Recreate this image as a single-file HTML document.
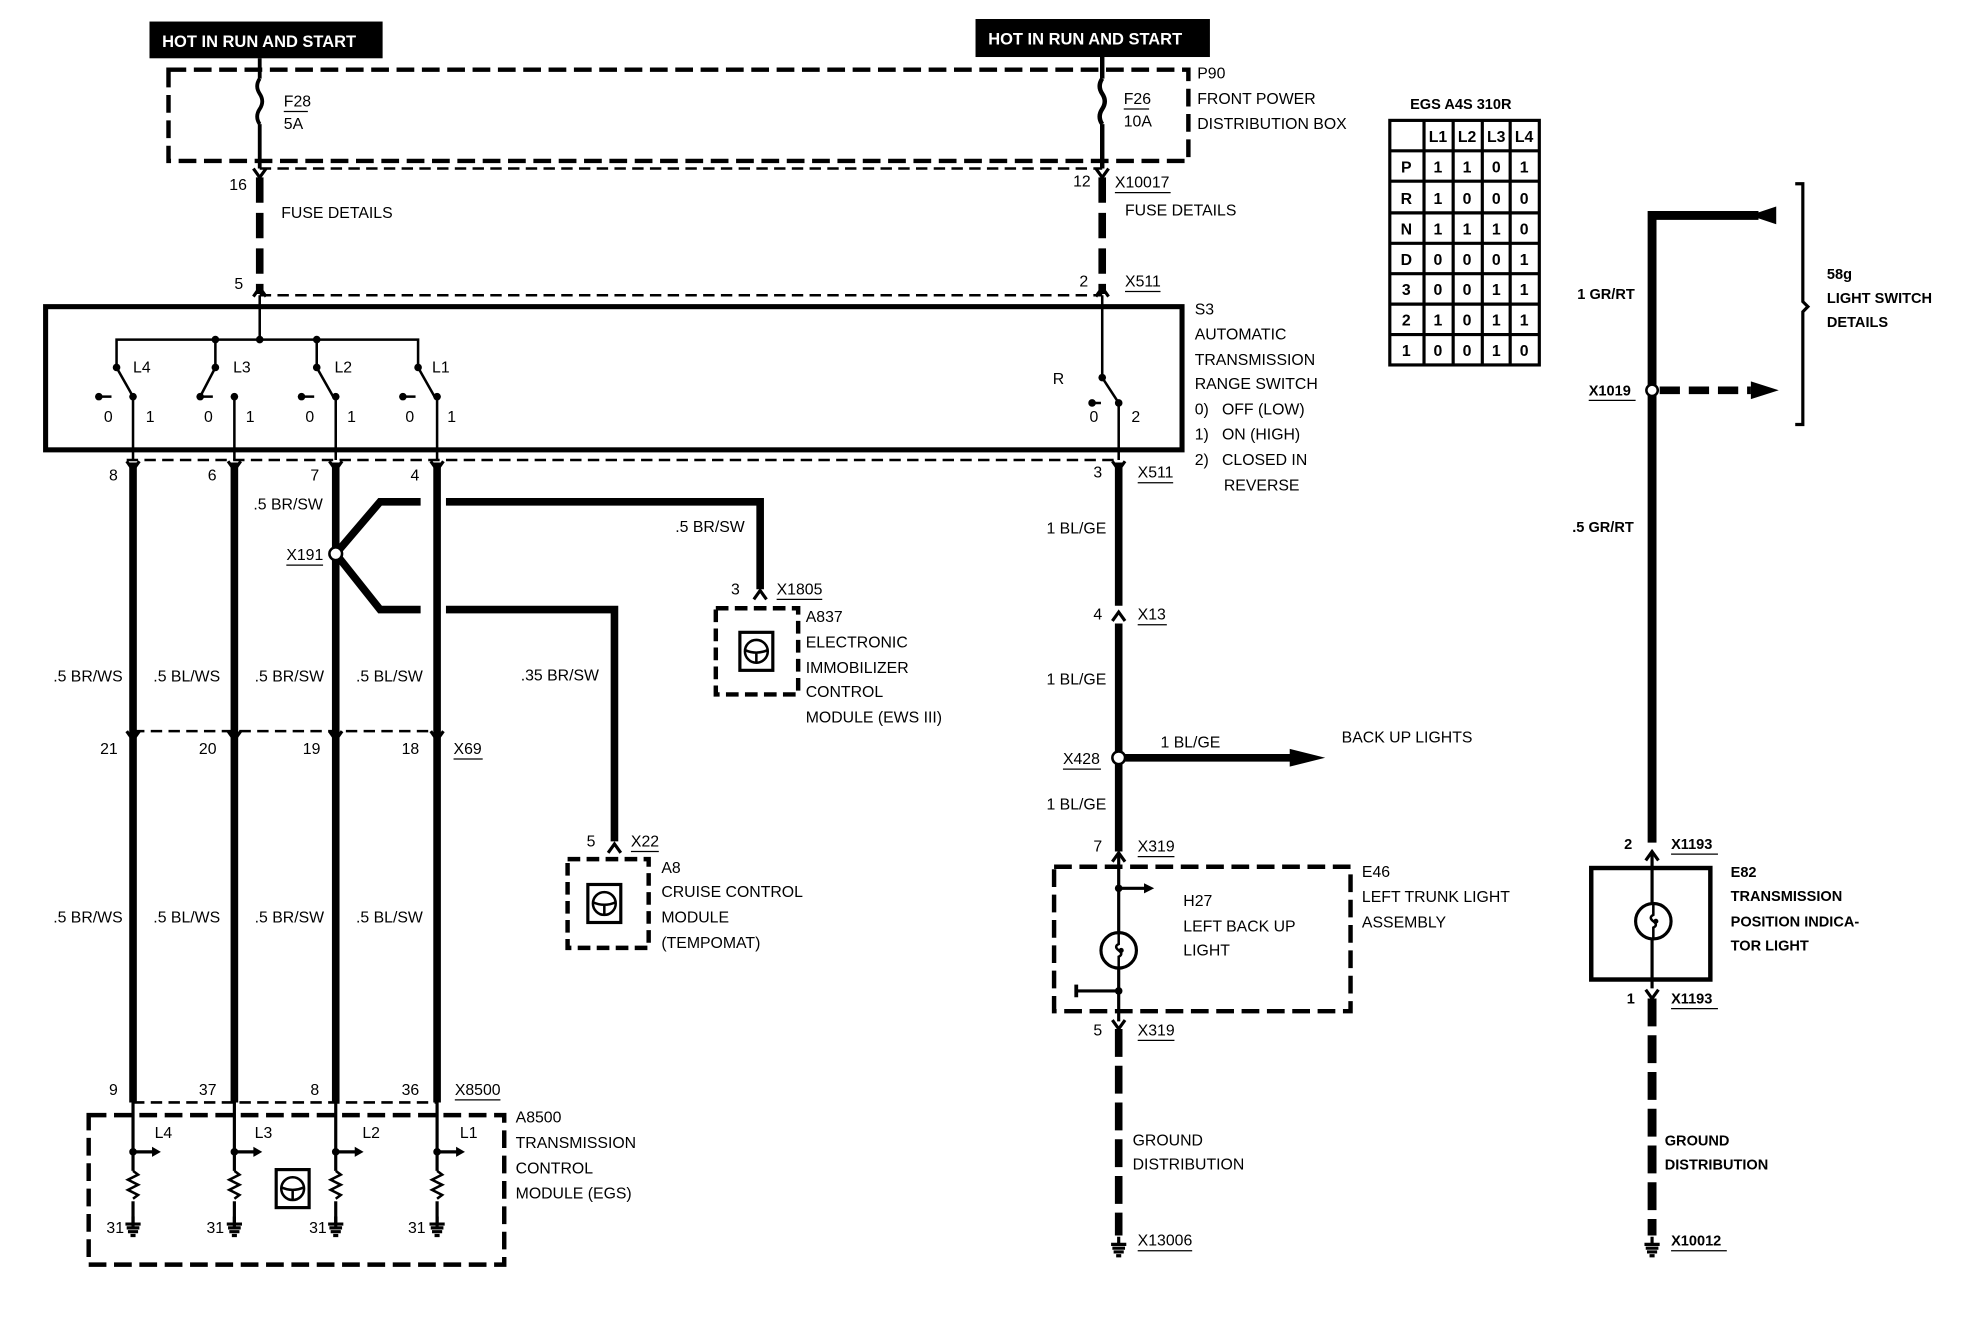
<!DOCTYPE html>
<html><head><meta charset="utf-8"><style>
html,body{margin:0;padding:0;background:#fff;width:1984px;height:1328px;overflow:hidden}
svg{display:block}
text{font-family:"Liberation Sans",sans-serif;font-size:12.5px;fill:#000}
.b{font-weight:bold}
</style></head><body>
<svg width="1984" height="1328" viewBox="0 0 1566 1048" preserveAspectRatio="none" xmlns="http://www.w3.org/2000/svg">
<defs>
<g id="fork"><path d="M-5,-7 L0,0 L5,-7" fill="none" stroke="#000" stroke-width="2.5"/></g>
<g id="forkU"><path d="M-5,7 L0,0 L5,7" fill="none" stroke="#000" stroke-width="2.5"/></g>
<g id="gnd"><path d="M0,-10 V-4 M-6,-4 H6 M-5,-1 H5 M-4,2 H4 M-2,5 H2" stroke="#000" stroke-width="2.5" fill="none"/></g>
<g id="mod"><rect x="-13" y="-15" width="26" height="30" fill="#fff" stroke="#000" stroke-width="2.5"/><circle cx="0" cy="0" r="9" fill="none" stroke="#000" stroke-width="2"/><path d="M-9,-1 Q0,3 9,-1 M0,2 V9" stroke="#000" stroke-width="2" fill="none"/></g>
<g id="lamp"><circle cx="0" cy="0" r="14" fill="none" stroke="#000" stroke-width="2.5"/><path d="M0,-14 V-5 Q-4,-3 0,0 Q4,3 0,5 V14" fill="none" stroke="#000" stroke-width="2"/><circle cx="2" cy="0" r="2"/></g>
<g id="res"><path d="M0,0 l4,3 l-8,4 l8,4 l-8,4 l8,4 l-4,3" fill="none" stroke="#000" stroke-width="2"/></g>
</defs>

<rect x="118" y="17" width="184" height="29" fill="#000"/>
<text x="128" y="37" class="b" style="fill:#fff;font-size:13px">HOT IN RUN AND START</text>
<rect x="770" y="15" width="185" height="30" fill="#000"/>
<text x="780" y="35" class="b" style="fill:#fff;font-size:13px">HOT IN RUN AND START</text>

<rect x="133" y="55" width="805" height="72" fill="none" stroke="#000" stroke-width="3.5" stroke-dasharray="14,6"/>
<text x="945" y="62">P90</text>
<text x="945" y="82">FRONT POWER</text>
<text x="945" y="102">DISTRIBUTION BOX</text>
<path d="M205,46 V62 M205,62 q-4,6 0,12 q4,6 0,12 q-4,6 0,12 M205,98 V133" stroke="#000" stroke-width="3" fill="none"/>
<text x="224" y="84">F28</text><line x1="224" y1="88" x2="243" y2="88" stroke="#000"/><text x="224" y="102">5A</text>
<path d="M870,45 V62 M870,62 q-4,6 0,12 q4,6 0,12 q-4,6 0,12 M870,98 V133" stroke="#000" stroke-width="3.5" fill="none"/>
<text x="887" y="82">F26</text><line x1="887" y1="86" x2="907" y2="86" stroke="#000"/><text x="887" y="100">10A</text>

<line x1="205" y1="133" x2="870" y2="133" stroke="#000" stroke-width="2" stroke-dasharray="9,5"/>
<use href="#fork" x="205" y="140"/><use href="#fork" x="870" y="140"/>
<path d="M205,140 V232" stroke="#000" stroke-width="6" stroke-dasharray="20,8"/>
<path d="M870,140 V232" stroke="#000" stroke-width="6" stroke-dasharray="20,8"/>
<text x="181" y="150">16</text><text x="847" y="147">12</text>
<text x="880" y="148">X10017</text><line x1="880" y1="152" x2="924" y2="152" stroke="#000"/>
<text x="222" y="172">FUSE DETAILS</text><text x="888" y="170">FUSE DETAILS</text>
<text x="185" y="228">5</text><text x="852" y="226">2</text>
<text x="888" y="226">X511</text><line x1="888" y1="230" x2="916" y2="230" stroke="#000"/>
<line x1="205" y1="233" x2="870" y2="233" stroke="#000" stroke-width="2" stroke-dasharray="9,5"/>
<use href="#forkU" x="205" y="227"/><use href="#forkU" x="870" y="227"/>

<rect x="36" y="242" width="897" height="113" fill="none" stroke="#000" stroke-width="4"/>
<text x="943" y="248">S3</text>
<text x="943" y="268">AUTOMATIC</text>
<text x="943" y="288">TRANSMISSION</text>
<text x="943" y="307">RANGE SWITCH</text>
<text x="943" y="327">0)&#160;&#160;&#160;OFF (LOW)</text>
<text x="943" y="347">1)&#160;&#160;&#160;ON (HIGH)</text>
<text x="943" y="367">2)&#160;&#160;&#160;CLOSED IN</text>
<text x="966" y="387">REVERSE</text>

<g stroke="#000" stroke-width="2" fill="none">
<path d="M205,233 V268 M92,290 V268 H330 V290"/>
<path d="M170,268 V290 M250,268 V290"/>
<path d="M92,290 L105,313 M170,290 L158,313 M250,290 L263,313 M330,290 L343,313 M870,233 V298 L883,318"/>
<path d="M105,313 V363 M185,313 V363 M265,313 V363 M345,313 V363 M883,318 V363"/>
<path d="M80,313 h8 M160,313 h8 M240,313 h8 M320,313 h8 M863,318 h6" stroke-width="2"/>
</g>
<g>
<circle cx="92" cy="290" r="3"/><circle cx="170" cy="290" r="3"/><circle cx="250" cy="290" r="3"/><circle cx="330" cy="290" r="3"/>
<circle cx="170" cy="268" r="3"/><circle cx="205" cy="268" r="3"/><circle cx="250" cy="268" r="3"/>
<circle cx="78" cy="313" r="3"/><circle cx="158" cy="313" r="3"/><circle cx="238" cy="313" r="3"/><circle cx="318" cy="313" r="3"/>
<circle cx="105" cy="313" r="3"/><circle cx="185" cy="313" r="3"/><circle cx="265" cy="313" r="3"/><circle cx="345" cy="313" r="3"/>
<circle cx="870" cy="298" r="3"/><circle cx="862" cy="318" r="3"/><circle cx="883" cy="318" r="3"/>
</g>
<text x="105" y="294">L4</text><text x="184" y="294">L3</text><text x="264" y="294">L2</text><text x="341" y="294">L1</text>
<text x="831" y="303">R</text>
<text x="82" y="333">0</text><text x="115" y="333">1</text>
<text x="161" y="333">0</text><text x="194" y="333">1</text>
<text x="241" y="333">0</text><text x="274" y="333">1</text>
<text x="320" y="333">0</text><text x="353" y="333">1</text>
<text x="860" y="333">0</text><text x="893" y="333">2</text>

<line x1="100" y1="363" x2="883" y2="363" stroke="#000" stroke-width="2" stroke-dasharray="9,5"/>
<g stroke="#000" stroke-width="6">
<path d="M105,365 V870 M185,365 V870 M265,365 V870 M345,365 V870"/>
</g>
<use href="#fork" x="105" y="371"/><use href="#fork" x="185" y="371"/><use href="#fork" x="265" y="371"/><use href="#fork" x="345" y="371"/>
<use href="#fork" x="883" y="371"/>
<text x="86" y="379">8</text><text x="164" y="379">6</text><text x="245" y="379">7</text><text x="324" y="379">4</text>
<text x="863" y="377">3</text><text x="898" y="377">X511</text><line x1="898" y1="381" x2="926" y2="381" stroke="#000"/>
<text x="200" y="402">.5 BR/SW</text>

<g stroke="#000" stroke-width="6" fill="none">
<path d="M265,437 L300,396 H332 M265,437 L300,481 H332"/>
<path d="M352,396 H600 V465 M352,481 H485 V664"/>
</g>
<circle cx="265" cy="437" r="5" fill="#fff" stroke="#000" stroke-width="2"/>
<text x="226" y="442">X191</text><line x1="226" y1="446" x2="255" y2="446" stroke="#000"/>
<text x="533" y="420">.5 BR/SW</text>
<text x="411" y="537">.35 BR/SW</text>
<use href="#forkU" x="600" y="466"/>
<text x="577" y="469">3</text><text x="613" y="469">X1805</text><line x1="613" y1="473" x2="649" y2="473" stroke="#000"/>
<rect x="565" y="480" width="65" height="68" fill="none" stroke="#000" stroke-width="3.5" stroke-dasharray="10,5"/>
<use href="#mod" x="597" y="514"/>
<text x="636" y="491">A837</text>
<text x="636" y="511">ELECTRONIC</text>
<text x="636" y="531">IMMOBILIZER</text>
<text x="636" y="550">CONTROL</text>
<text x="636" y="570">MODULE (EWS III)</text>

<use href="#forkU" x="485" y="666"/>
<text x="463" y="668">5</text><text x="498" y="668">X22</text><line x1="498" y1="672" x2="520" y2="672" stroke="#000"/>
<rect x="448" y="678" width="64" height="70" fill="none" stroke="#000" stroke-width="3.5" stroke-dasharray="10,5"/>
<use href="#mod" x="477" y="713"/>
<text x="522" y="689">A8</text>
<text x="522" y="708">CRUISE CONTROL</text>
<text x="522" y="728">MODULE</text>
<text x="522" y="748">(TEMPOMAT)</text>

<text x="42" y="538">.5 BR/WS</text><text x="121" y="538">.5 BL/WS</text><text x="201" y="538">.5 BR/SW</text><text x="281" y="538">.5 BL/SW</text>
<text x="42" y="728">.5 BR/WS</text><text x="121" y="728">.5 BL/WS</text><text x="201" y="728">.5 BR/SW</text><text x="281" y="728">.5 BL/SW</text>

<line x1="105" y1="577" x2="345" y2="577" stroke="#000" stroke-width="2" stroke-dasharray="9,5"/>
<use href="#fork" x="105" y="584"/><use href="#fork" x="185" y="584"/><use href="#fork" x="265" y="584"/><use href="#fork" x="345" y="584"/>
<text x="79" y="595">21</text><text x="157" y="595">20</text><text x="239" y="595">19</text><text x="317" y="595">18</text>
<text x="358" y="595">X69</text><line x1="358" y1="599" x2="381" y2="599" stroke="#000"/>

<line x1="105" y1="870" x2="345" y2="870" stroke="#000" stroke-width="2" stroke-dasharray="9,5"/>
<text x="86" y="864">9</text><text x="157" y="864">37</text><text x="245" y="864">8</text><text x="317" y="864">36</text>
<text x="359" y="864">X8500</text><line x1="359" y1="868" x2="395" y2="868" stroke="#000"/>

<rect x="70" y="880" width="328" height="118" fill="none" stroke="#000" stroke-width="3.5" stroke-dasharray="14,6"/>
<g stroke="#000" stroke-width="2.5" fill="none">
<path d="M105,870 V969 M185,870 V969 M265,870 V969 M345,870 V969"/>
<path d="M105,909 H122 M185,909 H202 M265,909 H282 M345,909 H362"/>
</g>
<g>
<path d="M120,905 l7,4 l-7,4z M200,905 l7,4 l-7,4z M280,905 l7,4 l-7,4z M360,905 l7,4 l-7,4z"/>
<circle cx="105" cy="909" r="3"/><circle cx="185" cy="909" r="3"/><circle cx="265" cy="909" r="3"/><circle cx="345" cy="909" r="3"/>
</g>
<rect x="101" y="924" width="8" height="24" fill="#fff"/><use href="#res" x="105" y="924"/>
<rect x="181" y="924" width="8" height="24" fill="#fff"/><use href="#res" x="185" y="924"/>
<rect x="261" y="924" width="8" height="24" fill="#fff"/><use href="#res" x="265" y="924"/>
<rect x="341" y="924" width="8" height="24" fill="#fff"/><use href="#res" x="345" y="924"/>
<use href="#gnd" x="105" y="970"/><use href="#gnd" x="185" y="970"/><use href="#gnd" x="265" y="970"/><use href="#gnd" x="345" y="970"/>
<text x="84" y="973">31</text><text x="163" y="973">31</text><text x="244" y="973">31</text><text x="322" y="973">31</text>
<text x="122" y="898">L4</text><text x="201" y="898">L3</text><text x="286" y="898">L2</text><text x="363" y="898">L1</text>
<use href="#mod" x="231" y="938"/>
<text x="407" y="886">A8500</text>
<text x="407" y="906">TRANSMISSION</text>
<text x="407" y="926">CONTROL</text>
<text x="407" y="946">MODULE (EGS)</text>

<path d="M883,365 V478 M883,492 V672" stroke="#000" stroke-width="6"/>
<use href="#forkU" x="883" y="483"/>
<text x="826" y="421">1 BL/GE</text>
<text x="863" y="489">4</text><text x="898" y="489">X13</text><line x1="898" y1="493" x2="921" y2="493" stroke="#000"/>
<text x="826" y="540">1 BL/GE</text>
<path d="M883,598 H1020" stroke="#000" stroke-width="6"/>
<path d="M1018,591 L1046,598 L1018,605z"/>
<circle cx="883" cy="598" r="5" fill="#fff" stroke="#000" stroke-width="2"/>
<text x="839" y="603">X428</text><line x1="839" y1="607" x2="869" y2="607" stroke="#000"/>
<text x="916" y="590">1 BL/GE</text>
<text x="1059" y="586">BACK UP LIGHTS</text>
<text x="826" y="639">1 BL/GE</text>
<use href="#forkU" x="883" y="673"/>
<text x="863" y="672">7</text><text x="898" y="672">X319</text><line x1="898" y1="676" x2="927" y2="676" stroke="#000"/>
<rect x="832" y="684" width="234" height="114" fill="none" stroke="#000" stroke-width="3.5" stroke-dasharray="14,6"/>
<g stroke="#000" stroke-width="2.5" fill="none">
<path d="M883,673 V736 M883,764 V806 M883,701 H905 M850,782 H883"/>
</g>
<path d="M903,697 l8,4 l-8,4z"/><circle cx="883" cy="701" r="3"/><circle cx="883" cy="782" r="3"/>
<path d="M848,777 v10 h3 v-10z"/>
<use href="#lamp" x="883" y="750"/>
<text x="934" y="715">H27</text><text x="934" y="735">LEFT BACK UP</text><text x="934" y="754">LIGHT</text>
<text x="1075" y="692">E46</text><text x="1075" y="712">LEFT TRUNK LIGHT</text><text x="1075" y="732">ASSEMBLY</text>
<use href="#fork" x="883" y="812"/>
<text x="863" y="817">5</text><text x="898" y="817">X319</text><line x1="898" y1="821" x2="927" y2="821" stroke="#000"/>
<path d="M883,812 V975" stroke="#000" stroke-width="6" stroke-dasharray="22,7"/>
<text x="894" y="904">GROUND</text><text x="894" y="923">DISTRIBUTION</text>
<use href="#gnd" x="883" y="986"/>
<text x="898" y="983">X13006</text><line x1="898" y1="987" x2="941" y2="987" stroke="#000"/>

<text x="1113" y="86" class="b" style="font-size:11.5px">EGS A4S 310R</text>
<g stroke="#000" stroke-width="2.5" fill="none">
<rect x="1097" y="95" width="118" height="193"/>
<path d="M1124,95 V288 M1147,95 V288 M1170,95 V288 M1192,95 V288"/>
<path d="M1097,119 H1215 M1097,143 H1215 M1097,168 H1215 M1097,192 H1215 M1097,216 H1215 M1097,240 H1215 M1097,264 H1215"/>
</g>
<g class="b" style="font-size:11px" text-anchor="middle">
<text x="1135" y="112">L1</text><text x="1158" y="112">L2</text><text x="1181" y="112">L3</text><text x="1203" y="112">L4</text>
<text x="1110" y="136">P</text><text x="1135" y="136">1</text><text x="1158" y="136">1</text><text x="1181" y="136">0</text><text x="1203" y="136">1</text>
<text x="1110" y="161">R</text><text x="1135" y="161">1</text><text x="1158" y="161">0</text><text x="1181" y="161">0</text><text x="1203" y="161">0</text>
<text x="1110" y="185">N</text><text x="1135" y="185">1</text><text x="1158" y="185">1</text><text x="1181" y="185">1</text><text x="1203" y="185">0</text>
<text x="1110" y="209">D</text><text x="1135" y="209">0</text><text x="1158" y="209">0</text><text x="1181" y="209">0</text><text x="1203" y="209">1</text>
<text x="1110" y="233">3</text><text x="1135" y="233">0</text><text x="1158" y="233">0</text><text x="1181" y="233">1</text><text x="1203" y="233">1</text>
<text x="1110" y="257">2</text><text x="1135" y="257">1</text><text x="1158" y="257">0</text><text x="1181" y="257">1</text><text x="1203" y="257">1</text>
<text x="1110" y="281">1</text><text x="1135" y="281">0</text><text x="1158" y="281">0</text><text x="1181" y="281">1</text><text x="1203" y="281">0</text>
</g>

<path d="M1304,665 V170 H1388" stroke="#000" stroke-width="7" fill="none"/>
<path d="M1402,163 L1381,170 L1402,177z"/>
<path d="M1310,308 H1382" stroke="#000" stroke-width="6" stroke-dasharray="16,7"/>
<path d="M1382,301 L1404,308 L1382,315z"/>
<circle cx="1304" cy="308" r="4.5" fill="#fff" stroke="#000" stroke-width="2"/>
<path d="M1417,145 h6 V238 l4,4 l-4,4 V335 h-6" stroke="#000" stroke-width="2.5" fill="none"/>
<text x="1442" y="220" class="b" style="font-size:11.5px">58g</text>
<text x="1442" y="239" class="b" style="font-size:11.5px">LIGHT SWITCH</text>
<text x="1442" y="258" class="b" style="font-size:11.5px">DETAILS</text>
<text x="1245" y="236" class="b" style="font-size:11.5px">1 GR/RT</text>
<text x="1254" y="312" class="b" style="font-size:11.5px">X1019</text><line x1="1254" y1="316" x2="1291" y2="316" stroke="#000"/>
<text x="1241" y="420" class="b" style="font-size:11.5px">.5 GR/RT</text>
<use href="#forkU" x="1304" y="672"/>
<text x="1282" y="670" class="b" style="font-size:11.5px">2</text>
<text x="1319" y="670" class="b" style="font-size:11.5px">X1193</text><line x1="1319" y1="674" x2="1356" y2="674" stroke="#000"/>
<rect x="1256" y="685" width="94" height="88" fill="none" stroke="#000" stroke-width="3.5"/>
<path d="M1304,672 V713 M1304,741 V780" stroke="#000" stroke-width="2.5"/>
<use href="#lamp" x="1305" y="727"/>
<text x="1366" y="692" class="b" style="font-size:11.5px">E82</text>
<text x="1366" y="711" class="b" style="font-size:11.5px">TRANSMISSION</text>
<text x="1366" y="731" class="b" style="font-size:11.5px">POSITION INDICA-</text>
<text x="1366" y="750" class="b" style="font-size:11.5px">TOR LIGHT</text>
<use href="#fork" x="1304" y="788"/>
<text x="1284" y="792" class="b" style="font-size:11.5px">1</text>
<text x="1319" y="792" class="b" style="font-size:11.5px">X1193</text><line x1="1319" y1="796" x2="1356" y2="796" stroke="#000"/>
<path d="M1304,788 V975" stroke="#000" stroke-width="7" stroke-dasharray="22,7"/>
<text x="1314" y="904" class="b" style="font-size:11.5px">GROUND</text>
<text x="1314" y="923" class="b" style="font-size:11.5px">DISTRIBUTION</text>
<use href="#gnd" x="1304" y="986"/>
<text x="1319" y="983" class="b" style="font-size:11.5px">X10012</text><line x1="1319" y1="987" x2="1363" y2="987" stroke="#000"/>
</svg>
</body></html>
